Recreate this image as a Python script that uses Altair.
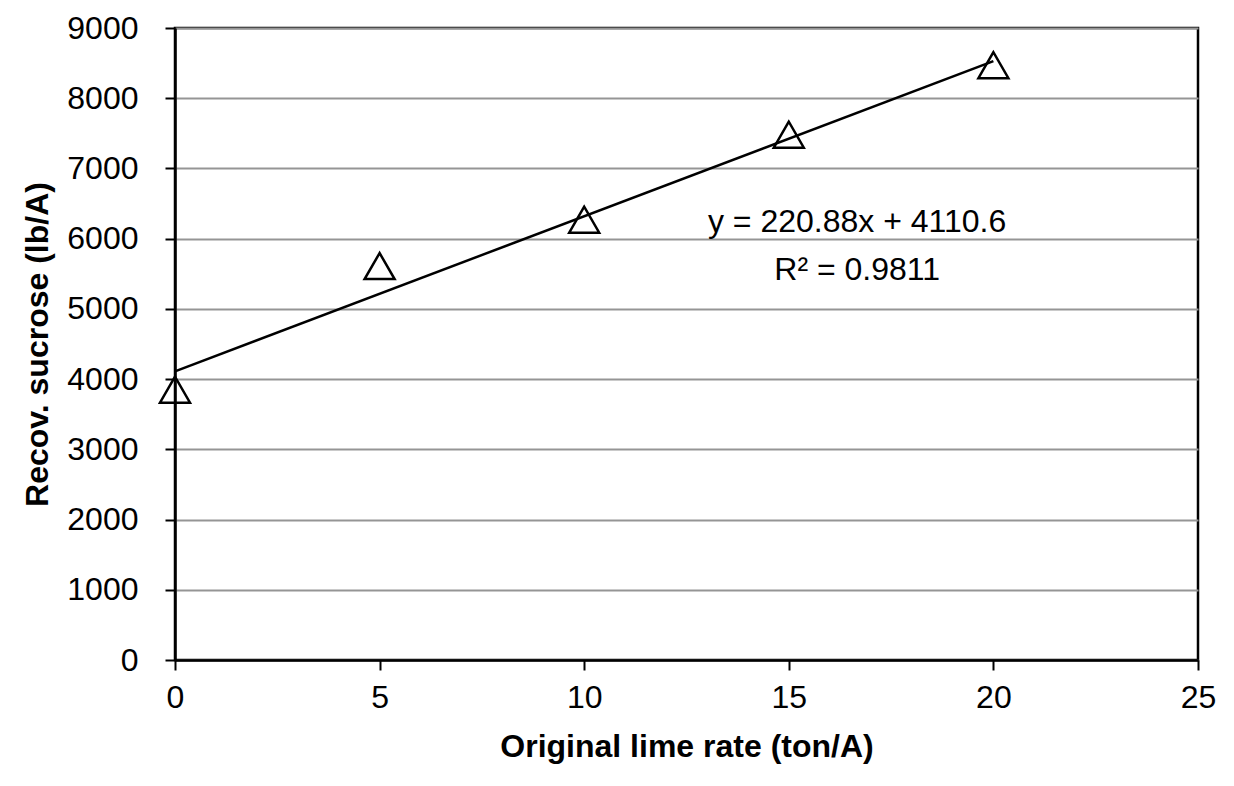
import altair as alt
import pandas as pd

# Data
lime_rate = [0, 5, 10, 15, 20]
sucrose = [3850, 5610, 6270, 7480, 8470]

trend_slope = 220.88
trend_intercept = 4110.6
trend_x = [0, 20]

ann_text = ["y = 220.88x + 4110.6", "R² = 0.9811"]
ann_x = [16.67, 16.67]
ann_y = [6235, 5560]

x_ticks = [0, 5, 10, 15, 20, 25]
y_ticks = [0, 1000, 2000, 3000, 4000, 5000, 6000, 7000, 8000, 9000]

FONT = "Liberation Sans"

pts = pd.DataFrame({"x": lime_rate, "y": sucrose})
trend = pd.DataFrame({"x": trend_x})
ann = pd.DataFrame({"x": ann_x, "y": ann_y, "t": ann_text})

xscale = alt.Scale(domain=[0, 25], nice=False, zero=False)
yscale = alt.Scale(domain=[0, 9000], nice=False)

xaxis = alt.Axis(
    title="Original lime rate (ton/A)", values=x_ticks, grid=False, format="d",
    labelFont=FONT, labelFontSize=32, labelColor="black", labelPadding=12,
    titleFont=FONT, titleFontSize=32, titleFontWeight="bold", titleColor="black",
    titlePadding=18, tickSize=10, tickWidth=2, tickColor="black",
    domainColor="black", domainWidth=2.5, labelFlush=False,
)
yaxis = alt.Axis(
    title="Recov. sucrose (lb/A)", values=y_ticks, grid=True, format="d",
    gridColor="#959595", gridWidth=2,
    labelFont=FONT, labelFontSize=32, labelColor="black", labelPadding=27,
    titleFont=FONT, titleFontSize=32, titleFontWeight="bold", titleColor="black",
    titlePadding=12, tickSize=10, tickWidth=2, tickColor="black",
    domainColor="black", domainWidth=2.5, labelFlush=False,
)

points = alt.Chart(pts).mark_point(
    shape="triangle-up", filled=False, color="black", strokeWidth=2.5, size=900, opacity=1
).encode(
    x=alt.X("x:Q", scale=xscale, axis=xaxis),
    y=alt.Y("y:Q", scale=yscale, axis=yaxis),
)

line = alt.Chart(trend).transform_calculate(
    y=f"{trend_slope} * datum.x + {trend_intercept}"
).mark_line(color="black", strokeWidth=2.5).encode(
    x=alt.X("x:Q", scale=xscale),
    y=alt.Y("y:Q", scale=yscale),
)

text = alt.Chart(ann).mark_text(
    font=FONT, fontSize=32, color="black", align="center", baseline="middle"
).encode(
    x=alt.X("x:Q", scale=xscale),
    y=alt.Y("y:Q", scale=yscale),
    text="t:N",
)

chart = alt.layer(points, line, text).properties(
    width=1023, height=632,
    autosize=alt.AutoSizeParams(type="none"),
    padding={"left": 167, "top": 20, "right": 28, "bottom": 118},
    background="white",
).configure_view(stroke="black", strokeWidth=2.5)

chart.save("out.html", embed_options={"renderer": "svg", "actions": False})
